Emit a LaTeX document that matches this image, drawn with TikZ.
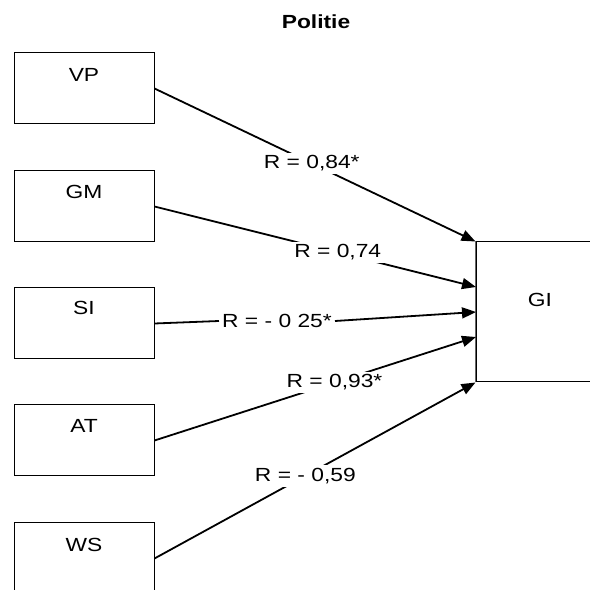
\documentclass[tikz,border=0pt]{standalone}
\usepackage{fontspec}
\setmainfont{Liberation Sans}[FakeStretch=1.2]
\usetikzlibrary{arrows.meta}
\begin{document}
\begin{tikzpicture}[x=1pt,y=1pt,
  box/.style={draw=black,line width=1pt,minimum width=140pt,minimum height=71pt,inner sep=0pt},
  txt/.style={font=\fontsize{19}{22}\selectfont,inner sep=0pt},
  lbl/.style={font=\fontsize{19}{22}\selectfont,fill=white,inner sep=3pt},
  conn/.style={line width=1.8pt,-{Triangle[length=14pt,width=11pt]}}]
\useasboundingbox (0,0) rectangle (590,590);
\clip (0,0) rectangle (590,590);
\node[txt,font=\bfseries\fontsize{19}{22}\selectfont] (title) at (316,568) {Politie};
% left boxes
\node[box] (vp) at (84,501.5) {};
\node[box] (gm) at (84,383.5) {};
\node[box] (si) at (84,266.5) {};
\node[box] (at) at (84,149.5) {};
\node[box] (ws) at (84,31.5) {};
\node[txt] (vpt) at (84,515) {VP};
\node[txt] (gmt) at (84,398) {GM};
\node[txt] (sit) at (84,282) {SI};
\node[txt] (att) at (84,164) {AT};
\node[txt] (wst) at (84,45) {WS};
% GI box
\node[draw=black,line width=1pt,minimum width=140pt,minimum height=140pt,inner sep=0pt] (gi) at (546,278) {};
\draw[gray!80!black,line width=1.2pt] (gi.north west) -- (gi.south west);
\node[txt] (git) at (540,290) {GI};
% targets
\coordinate (t1) at (gi.north west);
\coordinate (t2) at (476,303);
\coordinate (t3) at (476,278);
\coordinate (t4) at (476,253);
\coordinate (t5) at (gi.south west);
% connectors
\draw[conn] (vp.east) -- node[lbl,pos=0.49] (l1) {R = 0,84*} (t1);
\draw[conn] (gm.east) -- node[lbl,pos=0.57] (l2) {R = 0,74} (t2);
\node[lbl] (l3) at (277,269) {R = - 0 25*};
\draw[line width=1.8pt] (si.east) -- (l3.west);
\draw[conn] (l3.east) -- (t3);
\draw[conn] (at.east) -- node[lbl,pos=0.56] (l4) {R = 0,93*} (t4);
\draw[conn] (ws.east) -- node[lbl,pos=0.47] (l5) {R = - 0,59} (t5);
\end{tikzpicture}
\end{document}
